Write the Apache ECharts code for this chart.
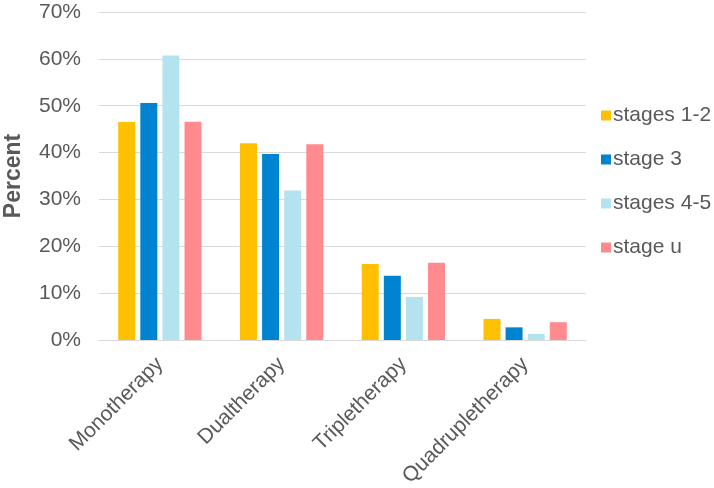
<!DOCTYPE html>
<html>
<head>
<meta charset="utf-8">
<script src="https://cdn.jsdelivr.net/npm/echarts@6/dist/echarts.min.js"></script>
<style>html,body{margin:0;padding:0;background:#fff}#c{width:714px;height:488px}</style>
</head>
<body>
<div id="c"></div>
<script>
const categories = ['Monotherapy', 'Dualtherapy', 'Tripletherapy', 'Quadrupletherapy'];
const seriesNames = ['stages 1-2', 'stage 3', 'stages 4-5', 'stage u'];
const stages12 = [46.5, 42.0, 16.2, 4.5];
const stage3 = [50.6, 39.7, 13.7, 2.7];
const stages45 = [60.7, 31.9, 9.2, 1.3];
const stageU = [46.6, 41.8, 16.5, 3.8];
const yTicks = [0, 10, 20, 30, 40, 50, 60, 70];
const colors = ['#FFC000', '#0084D1', '#B3E3EE', '#FF8B8F'];

const values = [stages12, stage3, stages45, stageU];
const chart = echarts.init(document.getElementById('c'));
const font = 'Liberation Sans, Arial, sans-serif';
chart.setOption({
  animation: false,
  color: colors,
  grid: { left: 99, right: 128, top: 12, bottom: 148, containLabel: false, outerBoundsMode: 'none' },
  legend: {
    orient: 'vertical',
    left: 596,
    top: 100,
    itemWidth: 10,
    itemHeight: 10,
    itemGap: 23,
    icon: 'rect',
    textStyle: { fontFamily: font, fontSize: 21, color: '#595959', padding: [0, 0, 0, -3] },
    data: seriesNames
  },
  xAxis: {
    type: 'category',
    data: categories,
    axisLine: { lineStyle: { color: '#D9D9D9', width: 1 } },
    axisTick: { show: false },
    axisLabel: { rotate: 45, fontFamily: font, fontSize: 21, color: '#595959', margin: 21, interval: 0 }
  },
  yAxis: {
    type: 'value',
    min: yTicks[0],
    max: yTicks[yTicks.length - 1],
    interval: 10,
    name: 'Percent',
    nameLocation: 'middle',
    nameGap: 74,
    nameRotate: 90,
    nameTextStyle: { fontFamily: font, fontSize: 23, fontWeight: 'bold', color: '#595959' },
    axisLine: { show: false },
    axisTick: { show: false },
    splitLine: { lineStyle: { color: '#D9D9D9', width: 1 } },
    axisLabel: { fontFamily: font, fontSize: 21, color: '#595959', margin: 18, formatter: v => v + '%' }
  },
  series: seriesNames.map((n, i) => ({
    name: n,
    type: 'bar',
    data: values[i],
    barWidth: 17,
    barGap: '30%',
    itemStyle: { color: colors[i] }
  }))
});
</script>
</body>
</html>
